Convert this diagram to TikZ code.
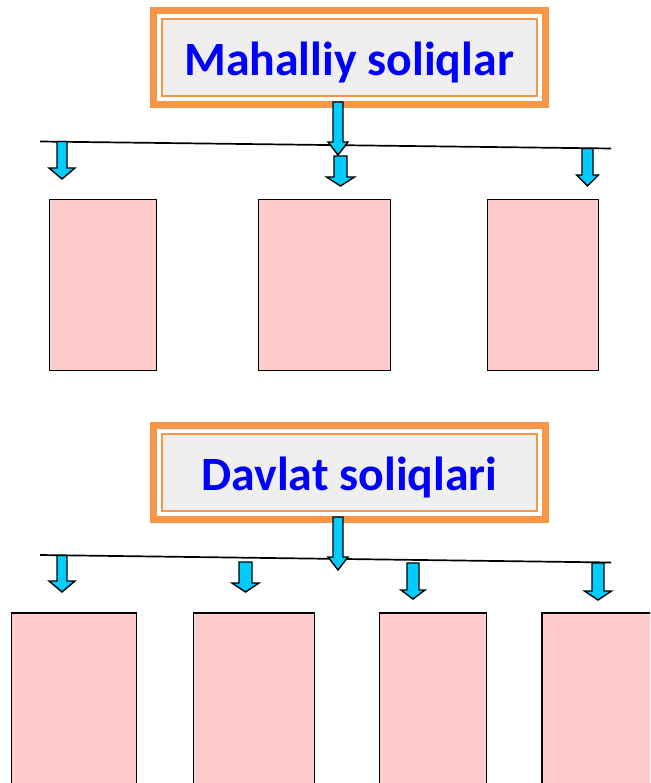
\documentclass[tikz,border=0pt]{standalone}
\usepackage{fontspec}
\setmainfont{Carlito}
\definecolor{orangeC}{HTML}{F79646}
\definecolor{greyC}{HTML}{EFEFEF}
\definecolor{boxpink}{HTML}{FFCCCC}
\definecolor{arrcyan}{HTML}{00CCFF}
\definecolor{titleblue}{HTML}{0000FF}
\newcommand\blockarrow[6]{%
  \filldraw[arr] ({#1-#4},#2) -- ({#1+#4},#2) -- ({#1+#4},{#3-#6}) -- ({#1+#5},{#3-#6}) -- (#1,#3) -- ({#1-#5},{#3-#6}) -- ({#1-#4},{#3-#6}) -- cycle;}
\begin{document}
\begin{tikzpicture}[x=1pt,y=-1pt,
  box/.style={draw=black,line width=1.6pt,fill=boxpink,inner sep=0pt},
  arr/.style={draw=black,line width=1.4pt,fill=arrcyan,line join=miter},
  bar/.style={draw=black,line width=1.7pt},
  frame/.style={fill=orangeC,inner sep=0pt,minimum width=399pt,minimum height=101pt},
  title/.style={font=\bfseries\fontsize{47.8}{54}\selectfont,text=titleblue,inner sep=0pt}]
\path[use as bounding box] (0,0) rectangle (650,783);
\fill[white] (0,0) rectangle (650,783);
\begin{scope}
\clip (0,0) rectangle (650,783);
% ---------- section 1 ----------
\node[frame] (t1) at (349.5,57.5) {};
\fill[white] (157,14) rectangle (542,101);
\draw[orangeC,line width=2pt,fill=greyC] (162,19) rectangle (537,96);
\node[title,anchor=base] (t1txt) at (349,75.5) {Mahalliy soliqlar};
\coordinate (l1a) at (40,141.5);
\coordinate (l1b) at (611,148.5);
\draw[bar] (l1a) -- (l1b);
\blockarrow{338}{102}{155}{5}{10}{13}
\blockarrow{340.5}{156}{186}{6.5}{14}{9}
\blockarrow{62}{141.5}{179}{5}{13}{11}
\blockarrow{587.5}{148.5}{186}{5.5}{11}{11}
\node[box,minimum width=107pt,minimum height=171pt] (a1) at (103,285) {};
\node[box,minimum width=132pt,minimum height=171pt] (a2) at (324.5,285) {};
\node[box,minimum width=111pt,minimum height=171pt] (a3) at (543,285) {};
% ---------- section 2 ----------
\node[frame] (t2) at (349.5,472.5) {};
\fill[white] (157,429) rectangle (542,516);
\draw[orangeC,line width=2pt,fill=greyC] (162,434) rectangle (537,511);
\node[title,anchor=base] (t2txt) at (349.5,490.5) {Davlat soliqlari};
\coordinate (l2a) at (40,555);
\coordinate (l2b) at (611,562.5);
\draw[bar] (l2a) -- (l2b);
\blockarrow{338}{517}{570}{5}{10}{13}
\blockarrow{62}{555.5}{592}{5}{13}{11}
\blockarrow{245.5}{562}{592}{6.5}{13.5}{9}
\blockarrow{413}{563}{599}{6}{12}{9}
\blockarrow{598}{563}{600}{6}{13.5}{9}
\node[box,minimum width=125pt,minimum height=187pt] (b1) at (74,706.5) {};
\node[box,minimum width=121pt,minimum height=187pt] (b2) at (254,706.5) {};
\node[box,minimum width=107pt,minimum height=187pt] (b3) at (433,706.5) {};
\node[box,minimum width=118pt,minimum height=187pt] (b4) at (601,706.5) {};
\end{scope}
\end{tikzpicture}
\end{document}
